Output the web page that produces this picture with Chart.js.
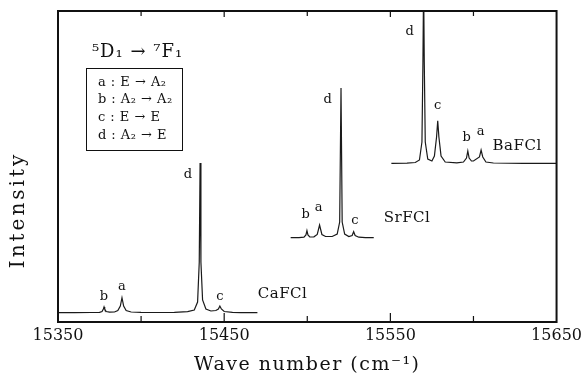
<!DOCTYPE html>
<html>
<head>
<meta charset="utf-8">
<script src="https://cdn.jsdelivr.net/npm/chart.js@4"></script>
<style>
  html, body { margin: 0; padding: 0; background: #fff; }
  canvas { display: block; }
</style>
</head>
<body>
<canvas id="c" width="586" height="377"></canvas>
<script>
// ---- Data (wave number in cm^-1, intensity in arbitrary units, traces vertically offset) ----
const caX = [15350, 15360, 15370, 15375, 15376.5, 15377.3, 15377.7, 15378.1, 15379, 15381, 15384, 15386, 15387.5, 15388.5, 15389.5, 15391, 15394, 15400, 15410, 15420, 15428, 15432, 15434, 15435, 15435.5, 15436, 15437, 15439, 15442, 15445, 15446.5, 15447.4, 15448.3, 15450, 15455, 15460, 15470];
const caY = [9.3, 9.3, 9.5, 9.6, 10.5, 13, 15, 13, 10.5, 9.8, 10, 11.5, 16, 24.3, 16, 11.5, 10, 9.6, 9.5, 9.7, 10.3, 12, 20, 60, 159, 60, 22, 13, 11, 11.5, 13, 16, 13, 10.5, 9.6, 9.4, 9.3];

const srX = [15490, 15495, 15498, 15499.2, 15499.8, 15500.4, 15501.5, 15504, 15506, 15507.4, 15508.8, 15511, 15515, 15518, 15519.5, 15520.3, 15521, 15522.5, 15525, 15527, 15527.9, 15528.8, 15531, 15535, 15540];
const srY = [84.3, 84.4, 84.8, 87, 91.3, 87, 85, 85.2, 87.5, 97, 87.5, 85.5, 85.5, 88, 100, 234, 100, 88, 85.5, 86.5, 90.3, 86.5, 84.8, 84.4, 84.3];

const baX = [15550.6, 15560, 15565, 15567.5, 15569, 15569.6, 15570, 15570.4, 15571, 15572.5, 15575, 15576.5, 15577.8, 15578.5, 15579.2, 15580.5, 15583, 15590, 15594, 15595.8, 15596.6, 15597.4, 15598.8, 15600, 15603.6, 15604.6, 15605.6, 15607.5, 15612, 15630, 15650];
const baY = [158.7, 158.9, 159.5, 162, 180, 260, 340, 260, 180, 163, 161, 166, 185, 201.3, 185, 166, 160, 159.2, 160, 164, 171, 164, 161, 161, 165, 172, 165, 160, 159, 158.7, 158.7];

const xTickLabels = [15350, 15450, 15550, 15650];
const seriesNames = ['CaFCl', 'SrFCl', 'BaFCl'];
const legendLines = ['a : E \u2192 A\u2082', 'b : A\u2082 \u2192 A\u2082', 'c : E \u2192 E', 'd : A\u2082 \u2192 E'];
const transitionTitle = '\u2075D\u2081 \u2192 \u2077F\u2081';

// ---- Annotation placement (data coordinates) ----
const peakLabels = [
  { t: 'b', x: 15377.7, y: 25 }, { t: 'a', x: 15388.5, y: 35 }, { t: 'd', x: 15428.2, y: 147 }, { t: 'c', x: 15447.4, y: 25 },
  { t: 'b', x: 15499.1, y: 107 }, { t: 'a', x: 15506.9, y: 114 }, { t: 'd', x: 15512.3, y: 222 }, { t: 'c', x: 15528.6, y: 101 },
  { t: 'd', x: 15561.6, y: 290 }, { t: 'c', x: 15578.5, y: 216 }, { t: 'b', x: 15595.9, y: 184 }, { t: 'a', x: 15604.3, y: 190 }
];
const nameLabels = [ { x: 15470.2, y: 28 }, { x: 15546, y: 104 }, { x: 15611.5, y: 176 } ];

const SERIF = '"DejaVu Serif", "Liberation Serif", serif';

function pts(xs, ys) { return xs.map((x, i) => ({ x: x, y: ys[i] })); }

const frameAndText = {
  id: 'frameAndText',
  afterDraw(chart) {
    const ctx = chart.ctx;
    const a = chart.chartArea;
    const xs = chart.scales.x, ys = chart.scales.y;
    ctx.save();
    ctx.fillStyle = '#111';
    ctx.strokeStyle = '#111';
    // frame
    ctx.lineWidth = 2;
    ctx.strokeRect(a.left, a.top, a.right - a.left, a.bottom - a.top);
    // inward tick marks
    ctx.lineWidth = 1.2;
    xs.ticks.forEach(tk => {
      const v = tk.value;
      if (v <= xs.min || v >= xs.max) return;
      const px = xs.getPixelForValue(v);
      const major = xTickLabels.includes(v);
      ctx.beginPath();
      ctx.moveTo(px, a.bottom); ctx.lineTo(px, a.bottom - (major ? 9 : 6));
      ctx.moveTo(px, a.top); ctx.lineTo(px, a.top + (major ? 6 : 5));
      ctx.stroke();
    });
    // peak labels
    ctx.textAlign = 'center';
    ctx.textBaseline = 'middle';
    ctx.font = '13px ' + SERIF;
    peakLabels.forEach(p => ctx.fillText(p.t, xs.getPixelForValue(p.x), ys.getPixelForValue(p.y)));
    // compound names
    ctx.textAlign = 'left';
    ctx.font = '15px ' + SERIF;
    ctx.letterSpacing = '0.5px';
    nameLabels.forEach((p, i) => ctx.fillText(seriesNames[i], xs.getPixelForValue(p.x), ys.getPixelForValue(p.y)));
    // transition title
    ctx.font = '18px ' + SERIF;
    ctx.letterSpacing = '1px';
    ctx.fillText(transitionTitle, xs.getPixelForValue(15370.4), ys.getPixelForValue(270));
    // legend box
    ctx.lineWidth = 1;
    const bx0 = xs.getPixelForValue(15366.8), bx1 = xs.getPixelForValue(15424.5);
    const by0 = ys.getPixelForValue(254), by1 = ys.getPixelForValue(172);
    ctx.strokeRect(Math.round(bx0) + 0.5, Math.round(by0) + 0.5, Math.round(bx1 - bx0), Math.round(by1 - by0));
    ctx.font = '13px ' + SERIF;
    ctx.letterSpacing = '0.5px';
    const ly = [239, 222, 204, 186];
    legendLines.forEach((s, i) => ctx.fillText(s, xs.getPixelForValue(15374), ys.getPixelForValue(ly[i])));
    // axis titles
    ctx.textAlign = 'center';
    ctx.font = '19px ' + SERIF;
    ctx.letterSpacing = '1.5px';
    ctx.fillText('Wave number (cm\u207B\u00B9)', (a.left + a.right) / 2, 365);
    ctx.save();
    ctx.translate(19, 210);
    ctx.rotate(-Math.PI / 2);
    ctx.font = '20px ' + SERIF;
    ctx.letterSpacing = '3px';
    ctx.fillText('Intensity', 0, 0);
    ctx.restore();
    ctx.restore();
  }
};

const lineStyle = { borderColor: '#1a1a1a', borderWidth: 1.2, pointRadius: 0, tension: 0, fill: false };

new Chart(document.getElementById('c'), {
  type: 'line',
  data: {
    datasets: [
      Object.assign({ label: seriesNames[0], data: pts(caX, caY) }, lineStyle),
      Object.assign({ label: seriesNames[1], data: pts(srX, srY) }, lineStyle),
      Object.assign({ label: seriesNames[2], data: pts(baX, baY) }, lineStyle)
    ]
  },
  options: {
    responsive: false,
    animation: false,
    devicePixelRatio: 1,
    layout: { padding: { top: 11, right: 29, left: 0, bottom: 0 } },
    plugins: { legend: { display: false }, tooltip: { enabled: false } },
    scales: {
      x: {
        type: 'linear', min: 15350, max: 15650,
        grid: { display: false, drawTicks: false },
        border: { display: false },
        ticks: {
          stepSize: 50, autoSkip: false, maxRotation: 0, padding: 4,
          color: '#111', font: { family: SERIF, size: 16 },
          callback: v => xTickLabels.includes(v) ? String(v) : ''
        },
        afterFit: s => { s.height = 55; }
      },
      y: {
        min: 0, max: 311,
        grid: { display: false, drawTicks: false },
        border: { display: false },
        ticks: { display: false },
        afterFit: s => { s.width = 58; }
      }
    }
  },
  plugins: [frameAndText]
});
</script>
</body>
</html>
